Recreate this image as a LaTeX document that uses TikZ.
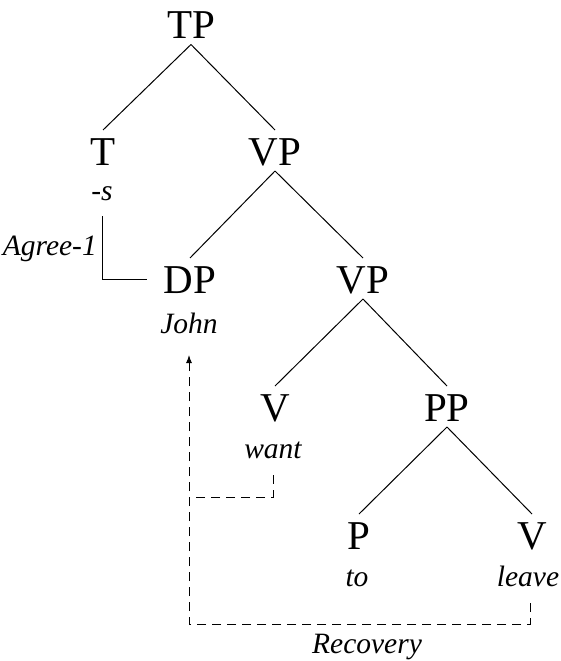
\documentclass[tikz,border=0pt]{standalone}
\usepackage{fontspec}
\setmainfont{Liberation Serif}
\usetikzlibrary{calc,arrows.meta}
\begin{document}
\begin{tikzpicture}[x=1pt,y=-1pt,
  cat/.style={anchor=base,inner sep=0pt,font=\fontsize{41}{41}\selectfont},
  word/.style={anchor=base,inner sep=0pt,font=\fontsize{29.5}{29.5}\selectfont\itshape},
  branch/.style={line width=1pt},
  recov/.style={line width=1pt,dash pattern=on 9pt off 6pt}]
\useasboundingbox (0,0) rectangle (560,661);
% categories
\node[cat] (TP) at (191,38.5) {TP};
\node[cat] (T) at (103,165) {T};
\node[cat] (VP) at (275,165) {VP};
\node[cat] (DP) at (190,293) {DP};
\node[cat] (VPb) at (363,293) {VP};
\node[cat] (V) at (275,421) {V};
\node[cat] (PP) at (447,421) {PP};
\node[cat] (P) at (359,549) {P};
\node[cat] (Vb) at (532,549) {V};
% words
\node[word] (s) at (102,200) {-s};
\node[word] (john) at (189,333) {John};
\node[word] (want) at (273,458) {want};
\node[word] (to) at (357,586) {to};
\node[word] (leave) at (528,586) {leave};
\node[word,anchor=base east] (agree) at (97,255) {Agree-1};
\node[word] (rec) at (367,653) {Recovery};
% branches
\foreach \a/\b in {TP/T,TP/VP,VP/DP,VP/VPb,VPb/V,VPb/PP,PP/P,PP/Vb}
  \draw[branch] ($(\a.base)+(0,6)$) -- ($(\b.base)+(0,-35)$);
% Agree
\draw[branch] ($(s.base)+(0,16)$) |- ([xshift=-17pt]DP.west);
% Recovery
\coordinate (jn) at ($(john.base)+(0,22)$);
\coordinate (lv) at (530,603);
\draw[recov] ($(want.base)+(0,17)$) -- ++(0,22) -| (jn |- 0,497);
\draw[recov] (lv) |- (jn |- 0,624) -- (jn |- 0,362);
\draw[line width=1pt,-{Latex[length=8pt,width=6pt]}] (jn |- 0,364) -- (jn);
\end{tikzpicture}
\end{document}
